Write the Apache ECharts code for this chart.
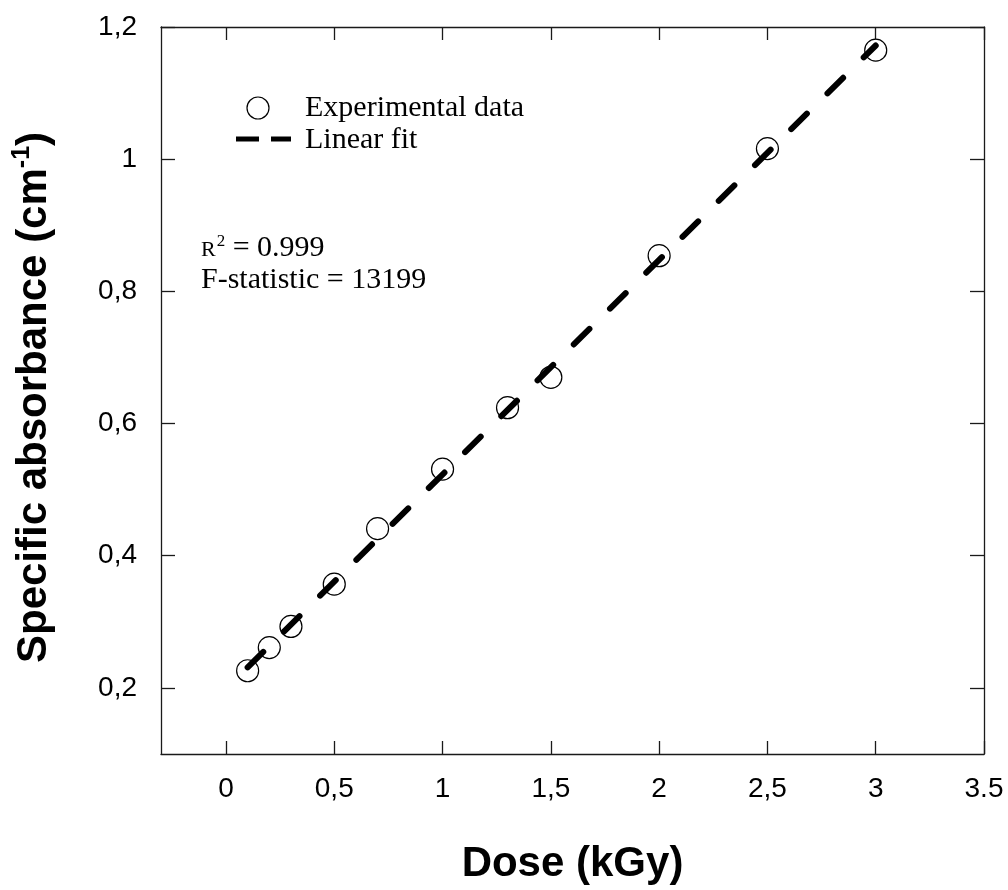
<!DOCTYPE html>
<html>
<head>
<meta charset="utf-8">
<script src="https://cdn.jsdelivr.net/npm/echarts@6/dist/echarts.min.js"></script>
<style>
  html, body { margin: 0; padding: 0; background: #ffffff; }
  #chart { width: 1008px; height: 890px; }
</style>
</head>
<body>
<div id="chart"></div>
<script>
// Measured specific absorbance versus absorbed dose
const doseKGy = [0.1, 0.2, 0.3, 0.5, 0.7, 1.0, 1.3, 1.5, 2.0, 2.5, 3.0];
const absorbance = [0.226, 0.261, 0.293, 0.357, 0.441, 0.531, 0.624, 0.670, 0.854, 1.016, 1.165];

// Linear fit, evaluated at both ends of the dose range
const fitDose = [0.1, 3.0];
const fitAbsorbance = [0.231, 1.172];

// Axis ticks and their printed labels
const xTickValues = [0, 0.5, 1, 1.5, 2, 2.5, 3, 3.5];
const xTickLabels = ['0', '0,5', '1', '1,5', '2', '2,5', '3', '3.5'];
const yTickValues = [0.2, 0.4, 0.6, 0.8, 1.0, 1.2];
const yTickLabels = ['0,2', '0,4', '0,6', '0,8', '1', '1,2'];

const statLines = { r2: '0.999', f: '13199' };

function labelFor(values, labels) {
  return function (v) {
    for (let i = 0; i < values.length; i++) {
      if (Math.abs(values[i] - v) < 1e-6) return labels[i];
    }
    return '';
  };
}

const SANS = '"Liberation Sans", Arial, sans-serif';
const SERIF = '"Liberation Serif", "Times New Roman", serif';
const AXIS_COLOR = '#1a1a1a';

const chart = echarts.init(document.getElementById('chart'), null, { renderer: 'canvas' });

const axisLineStyle = { show: true, onZero: false, lineStyle: { color: AXIS_COLOR, width: 1.3 } };

const xAxisBase = {
  type: 'value',
  min: -0.3,
  max: 3.5,
  axisLine: axisLineStyle,
  splitLine: { show: false },
  axisTick: { show: true, inside: true, length: 13, customValues: xTickValues,
              lineStyle: { color: AXIS_COLOR, width: 1.3 } }
};
const yAxisBase = {
  type: 'value',
  min: 0.1,
  max: 1.2,
  axisLine: axisLineStyle,
  splitLine: { show: false },
  axisTick: { show: true, inside: true, length: 14, customValues: yTickValues,
              lineStyle: { color: AXIS_COLOR, width: 1.3 } }
};

const option = {
  backgroundColor: '#ffffff',
  animation: false,
  grid: { left: 161, top: 27, width: 823, height: 736 },
  xAxis: [
    Object.assign({}, xAxisBase, {
      position: 'bottom',
      axisLabel: {
        show: true, customValues: xTickValues, margin: 21,
        formatter: labelFor(xTickValues, xTickLabels),
        color: '#000', fontFamily: SANS, fontSize: 28
      },
      name: 'Dose (kGy)',
      nameLocation: 'middle',
      nameGap: 89,
      nameTextStyle: { color: '#000', fontFamily: SANS, fontSize: 42, fontWeight: 'bold' }
    }),
    Object.assign({}, xAxisBase, { position: 'top', axisLabel: { show: false } })
  ],
  yAxis: [
    Object.assign({}, yAxisBase, {
      position: 'left',
      axisLabel: {
        show: true, customValues: yTickValues, margin: 24,
        formatter: labelFor(yTickValues, yTickLabels),
        color: '#000', fontFamily: SANS, fontSize: 28
      },
      name: '{t|Specific absorbance (cm}{s|-1}{e|)}',
      nameLocation: 'middle',
      nameRotate: 90,
      nameGap: 103,
      nameTextStyle: {
        rich: {
          t: { color: '#000', fontFamily: SANS, fontSize: 42, fontWeight: 'bold' },
          s: { color: '#000', fontFamily: SANS, fontSize: 25, fontWeight: 'bold', verticalAlign: 'top', padding: [0, 0, 23, 0] },
          e: { color: '#000', fontFamily: SANS, fontSize: 42, fontWeight: 'bold', padding: [0, 14, 0, 0] }
        }
      }
    }),
    Object.assign({}, yAxisBase, { position: 'right', axisLabel: { show: false } })
  ],
  series: [
    {
      name: 'Experimental data',
      type: 'scatter',
      xAxisIndex: 0, yAxisIndex: 0,
      data: doseKGy.map((d, i) => [d, absorbance[i]]),
      symbol: 'circle',
      symbolSize: 22,
      itemStyle: { color: '#ffffff', borderColor: '#000000', borderWidth: 1.2, opacity: 1 },
      z: 2
    },
    {
      name: 'Linear fit',
      type: 'line',
      xAxisIndex: 0, yAxisIndex: 0,
      data: fitDose.map((d, i) => [d, fitAbsorbance[i]]),
      showSymbol: false,
      symbol: 'none',
      lineStyle: { color: '#000000', width: 6, type: [22, 29], cap: 'round' },
      z: 3
    }
  ],
  graphic: [
    // legend
    { type: 'circle', shape: { cx: 258, cy: 108, r: 11 },
      style: { fill: '#ffffff', stroke: '#000000', lineWidth: 1.2 } },
    { type: 'text', x: 305, y: 108,
      style: { text: 'Experimental data', fill: '#000', font: '30px ' + SERIF, verticalAlign: 'middle' } },
    { type: 'line', shape: { x1: 236, y1: 139, x2: 259, y2: 139 },
      style: { stroke: '#000', lineWidth: 5 } },
    { type: 'line', shape: { x1: 271, y1: 139, x2: 291, y2: 139 },
      style: { stroke: '#000', lineWidth: 5 } },
    { type: 'text', x: 305, y: 140,
      style: { text: 'Linear fit', fill: '#000', font: '30px ' + SERIF, verticalAlign: 'middle' } },
    // fit statistics
    { type: 'text', x: 201, y: 248,
      style: {
        text: '{r|R}{s|2}{t| = ' + statLines.r2 + '}',
        verticalAlign: 'middle',
        rich: {
          r: { fill: '#000', fontFamily: SERIF, fontSize: 22, verticalAlign: 'bottom', padding: [0, 1, 2, 0] },
          s: { fill: '#000', fontFamily: SERIF, fontSize: 17, verticalAlign: 'top' },
          t: { fill: '#000', fontFamily: SERIF, fontSize: 30, verticalAlign: 'bottom' }
        }
      } },
    { type: 'text', x: 201, y: 280,
      style: { text: 'F-statistic = ' + statLines.f, fill: '#000', font: '30px ' + SERIF, verticalAlign: 'middle' } }
  ]
};

chart.setOption(option);
</script>
</body>
</html>
